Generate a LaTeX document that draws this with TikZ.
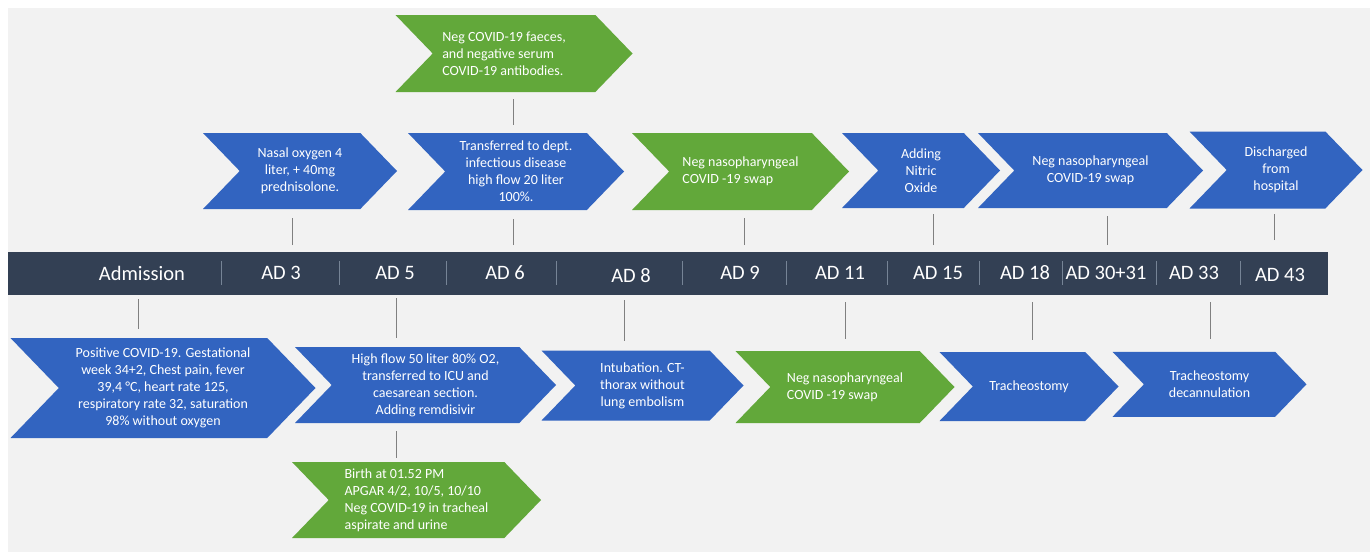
\documentclass[tikz,border=0pt]{standalone}
\usepackage{fontspec}
\setmainfont{Carlito}
\usetikzlibrary{shapes.symbols}
\definecolor{evblue}{RGB}{50,100,192}
\definecolor{evgreen}{RGB}{98,168,58}
\definecolor{barcol}{RGB}{51,64,84}
\definecolor{bgcol}{RGB}{242,242,242}
\definecolor{linkcol}{RGB}{128,128,128}
\definecolor{divcol}{RGB}{118,132,150}

\begin{document}
\begin{tikzpicture}[x=1pt,y=-1pt,
    chev/.style={shape=signal,signal from=west,signal to=east,signal pointer angle=92,
        inner sep=0pt,text=white,font=\fontsize{14}{17}\selectfont,align=center},
    blueev/.style={chev,fill=evblue},
    greenev/.style={chev,fill=evgreen},
    link/.style={draw=linkcol,line width=0.8pt},
    divider/.style={draw=divcol,line width=0.6pt},
    daylbl/.style={text=white,font=\fontsize{20.5}{24}\selectfont}]
        \useasboundingbox (0,0) rectangle (1372,552);
        \fill[bgcol] (8,8) rectangle (1370,552);

        % timeline bar
        \node[fill=barcol,minimum width=1320pt,minimum height=43pt,inner sep=0pt] (bar) at (668,273.5) {};
        \node[daylbl] (adm) at (142,273) {Admission};
        \node[daylbl] (ad3) at (281,273) {AD 3};
        \node[daylbl] (ad5) at (395,273) {AD 5};
        \node[daylbl] (ad6) at (505,273) {AD 6};
        \node[daylbl] (ad8) at (631,276) {AD 8};
        \node[daylbl] (ad9) at (740,273) {AD 9};
        \node[daylbl] (ad11) at (840,273) {AD 11};
        \node[daylbl] (ad15) at (938,273) {AD 15};
        \node[daylbl] (ad18) at (1025,273) {AD 18};
        \node[daylbl] (ad30) at (1106,273) {AD 30+31};
        \node[daylbl] (ad33) at (1194,273) {AD 33};
        \node[daylbl] (ad43) at (1280,275) {AD 43};
        \foreach \x in {221,339,446,556,682,786,887,979,1062,1156,1240}
            \draw[divider] (\x,261) -- (\x,285);

        % events above the bar
        \node[greenev,align=left,minimum width=237pt,minimum height=77pt] (faeces) at (514,53.5)
            {Neg COVID-19 faeces,\hspace*{20pt}\\and negative serum\\COVID-19 antibodies.};
        \node[blueev,minimum width=194pt,minimum height=76pt] (nasal) at (300,171)
            {Nasal oxygen 4\\liter, + 40mg\\prednisolone.};
        \node[blueev,minimum width=216pt,minimum height=77pt] (transf) at (516,171.5)
            {Transferred to dept.\\infectious disease\\high flow 20 liter\\100\%.};
        \node[greenev,align=left,minimum width=217pt,minimum height=77pt] (negA) at (740.5,171.5)
            {Neg nasopharyngeal\\COVID -19 swap};
        \node[blueev,minimum width=158pt,minimum height=75pt] (nitric) at (921,170.5)
            {Adding\\Nitric\\Oxide};
        \node[blueev,minimum width=225pt,minimum height=75pt] (negB) at (1090.5,170.5)
            {Neg nasopharyngeal\\COVID-19 swap};
        \node[blueev,minimum width=173pt,minimum height=77pt] (disch) at (1276,170)
            {Discharged\\from\\hospital};

        % events below the bar
        \node[blueev,minimum width=305pt,minimum height=100pt] (pos) at (163,388)
            {Positive COVID-19. Gestational\\week 34+2, Chest pain, fever\\39,4 °C, heart rate 125,\\respiratory rate 32, saturation\\98\% without oxygen};
        \node[blueev,minimum width=261pt,minimum height=76pt] (hiflow) at (425.5,385)
            {High flow 50 liter 80\% O2,\\transferred to ICU and\\caesarean section.\\Adding remdisivir};
        \node[blueev,minimum width=202pt,minimum height=70pt] (intub) at (642.5,385.5)
            {Intubation. CT-\\thorax without\\lung embolism};
        \node[greenev,align=left,minimum width=219pt,minimum height=72pt] (negC) at (845,387)
            {Neg nasopharyngeal\\COVID -19 swap};
        \node[blueev,minimum width=179pt,minimum height=69pt] (tracheo) at (1029,386.5)
            {Tracheostomy};
        \node[blueev,minimum width=194pt,minimum height=65pt] (decann) at (1209.5,384.3)
            {Tracheostomy\\decannulation};
        \node[greenev,align=left,minimum width=249pt,minimum height=76pt] (birth) at (416.5,500)
            {Birth at 01.52 PM\\APGAR 4/2, 10/5, 10/10\\Neg COVID-19 in tracheal\\aspirate and urine};

        % ticks on the bar
        \coordinate (k3) at (292,252);
        \coordinate (k6) at (513,252);
        \coordinate (k9) at (744,252);
        \coordinate (k15) at (933,252);
        \coordinate (k30) at (1107,252);
        \coordinate (k43) at (1274.5,252);
        \coordinate (k0) at (138,295);
        \coordinate (k5) at (396,295);
        \coordinate (k8) at (624,295);
        \coordinate (k11) at (845,295);
        \coordinate (k18) at (1032,295);
        \coordinate (k33) at (1210,295);

        % connectors
        \draw[link,shorten <=7pt,shorten >=8pt] (faeces.south -| k6) -- (transf.north -| k6);
        \draw[link,shorten <=7pt,shorten >=9pt] (k3) -- (k3 |- nasal.south);
        \draw[link,shorten <=7pt,shorten >=9pt] (k6) -- (k6 |- transf.south);
        \draw[link,shorten <=7pt,shorten >=8pt] (k9) -- (k9 |- negA.south);
        \draw[link,shorten <=7pt,shorten >=6pt] (k15) -- (k15 |- nitric.south);
        \draw[link,shorten <=7pt,shorten >=8pt] (k30) -- (k30 |- negB.south);
        \draw[link,shorten <=12pt,shorten >=5pt] (k43) -- (k43 |- disch.south);
        \draw[link,shorten <=4pt,shorten >=9pt] (k0) -- (k0 |- pos.north);
        \draw[link,shorten <=3pt,shorten >=9pt] (k5) -- (k5 |- hiflow.north);
        \draw[link,shorten <=5pt,shorten >=9pt] (k8) -- (k8 |- intub.north);
        \draw[link,shorten <=7pt,shorten >=12pt] (k11) -- (k11 |- negC.north);
        \draw[link,shorten <=7pt,shorten >=12pt] (k18) -- (k18 |- tracheo.north);
        \draw[link,shorten <=7pt,shorten >=13pt] (k33) -- (k33 |- decann.north);
        \draw[link,shorten <=8pt,shorten >=4pt] (hiflow.south -| k5) -- (birth.north -| k5);
\end{tikzpicture}
\end{document}
